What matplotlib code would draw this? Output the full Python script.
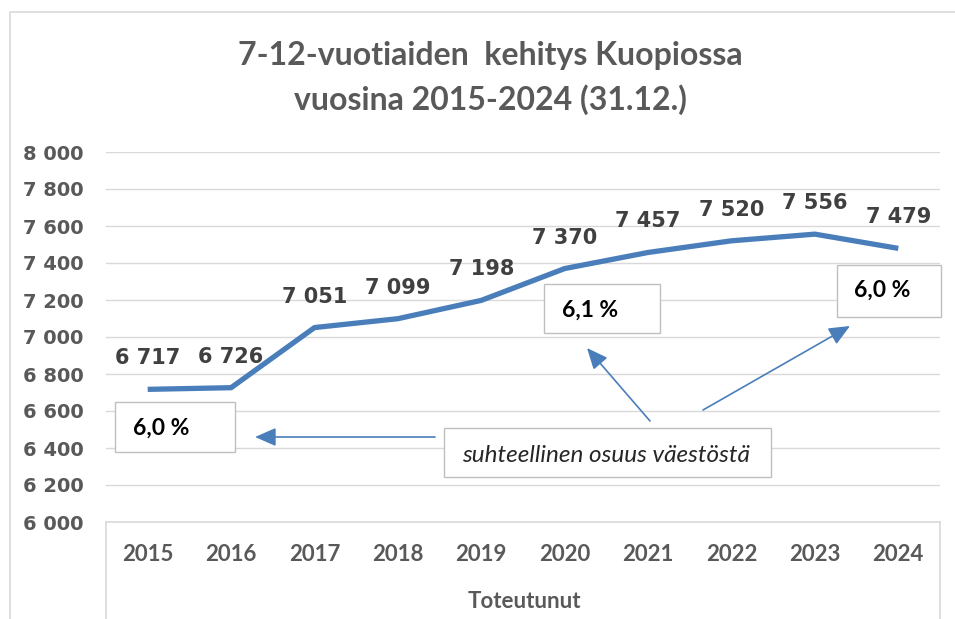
import matplotlib
matplotlib.use('Agg')
import matplotlib.pyplot as plt
from matplotlib.patches import Rectangle

# data
years = ['2015', '2016', '2017', '2018', '2019', '2020', '2021', '2022', '2023', '2024']
counts = [6717, 6726, 7051, 7099, 7198, 7370, 7457, 7520, 7556, 7479]
yticks = [6000, 6200, 6400, 6600, 6800, 7000, 7200, 7400, 7600, 7800, 8000]
share_labels = ['6,0 %', '6,1 %', '6,0 %']
share_note = 'suhteellinen osuus väestöstä'

W, H = 955, 619
blue = '#4a7ebb'
grey_txt = '#595959'
grid_col = '#d9d9d9'


def fx(x):
    return x / W


def fy(y):
    return 1 - y / H


def fmt(v):
    return f'{v:,}'.replace(',', ' ')


fig = plt.figure(figsize=(W / 100, H / 100), dpi=100)
fig.patch.set_facecolor('white')

# outer chart border
fig.add_artist(Rectangle((fx(10), fy(640)), fx(960) - fx(10), fy(12) - fy(640),
                         transform=fig.transFigure, fill=False, ec=grid_col, lw=1.2))

ax = fig.add_axes([fx(106), fy(522), fx(940) - fx(106), fy(152) - fy(522)])
x = list(range(len(years)))
ax.plot(x, counts, color=blue, lw=3.8, solid_capstyle='butt', zorder=3)
ax.set_xlim(-0.5, len(years) - 0.5)
ax.set_ylim(6000, 8000)
ax.set_yticks(yticks)
ax.set_yticklabels([fmt(v) for v in yticks], fontfamily='DejaVu Sans',
                   fontweight='bold', fontsize=14, color=grey_txt)
ax.set_xticks(x)
ax.set_xticklabels(years, fontfamily='Lato', fontweight='bold', fontsize=16, color=grey_txt)
ax.tick_params(axis='y', length=0, pad=16)
ax.tick_params(axis='x', length=0, pad=16)
ax.grid(axis='y', color=grid_col, lw=1)
ax.set_axisbelow(True)
for s in ['top', 'right', 'left']:
    ax.spines[s].set_visible(False)
ax.spines['bottom'].set_color(grid_col)
ax.spines['bottom'].set_linewidth(1.2)

for i, v in enumerate(counts):
    ax.annotate(fmt(v), (i, v), xytext=(0, 18), textcoords='offset points',
                ha='center', va='baseline', fontfamily='DejaVu Sans',
                fontweight='bold', fontsize=15, color='#404040')

# category box lines below the axis
fig.add_artist(plt.Line2D([fx(106), fx(106)], [fy(522), fy(640)],
                          transform=fig.transFigure, color=grid_col, lw=1.2))
fig.add_artist(plt.Line2D([fx(940), fx(940)], [fy(522), fy(640)],
                          transform=fig.transFigure, color=grid_col, lw=1.2))

fig.text(fx(490), fy(55), '7-12-vuotiaiden  kehitys Kuopiossa', ha='center', va='center',
         fontfamily='Lato', fontweight='bold', fontsize=23, color=grey_txt)
fig.text(fx(490), fy(100), 'vuosina 2015-2024 (31.12.)', ha='center', va='center',
         fontfamily='Lato', fontweight='bold', fontsize=23, color=grey_txt)
fig.text(fx(524), fy(601), 'Toteutunut', ha='center', va='center',
         fontfamily='Lato', fontweight='bold', fontsize=16, color=grey_txt)

# share boxes (pixel boxes: left, top, right, bottom; text left, text y)
boxes = [(115, 402, 235, 452, 133, 428),
         (544, 284, 660, 333, 562, 310),
         (837, 265, 941, 317, 854, 290)]
for (l, t, r, b, tx, ty), lab in zip(boxes, share_labels):
    fig.add_artist(Rectangle((fx(l), fy(b)), fx(r) - fx(l), fy(t) - fy(b),
                             transform=fig.transFigure, fc='white', ec='#bfbfbf',
                             lw=1, zorder=5))
    fig.text(fx(tx), fy(ty), lab, ha='left', va='center', fontfamily='Lato',
             fontweight='bold', fontsize=16.5, color='black', zorder=6)

fig.add_artist(Rectangle((fx(444), fy(477)), fx(771) - fx(444), fy(428) - fy(477),
                         transform=fig.transFigure, fc='white', ec='#bfbfbf',
                         lw=1, zorder=5))
fig.text(fx(606), fy(455), share_note, ha='center', va='center', fontfamily='Lato',
         fontstyle='italic', fontsize=17.5, color='#262626', zorder=6)

# arrows from the note to the boxes
arrows = [((435, 437), (255, 437)),
          ((650, 421), (587, 348)),
          ((703, 410), (850, 326))]
for (x0, y0), (x1, y1) in arrows:
    ax.annotate('', xy=(x1, H - y1), xycoords='figure pixels',
                xytext=(x0, H - y0), textcoords='figure pixels',
                arrowprops=dict(arrowstyle='-|>,head_length=0.8,head_width=0.35',
                                color=blue, lw=1.2, mutation_scale=16,
                                shrinkA=0, shrinkB=0))

fig.savefig('out.png', dpi=100, facecolor='white')
